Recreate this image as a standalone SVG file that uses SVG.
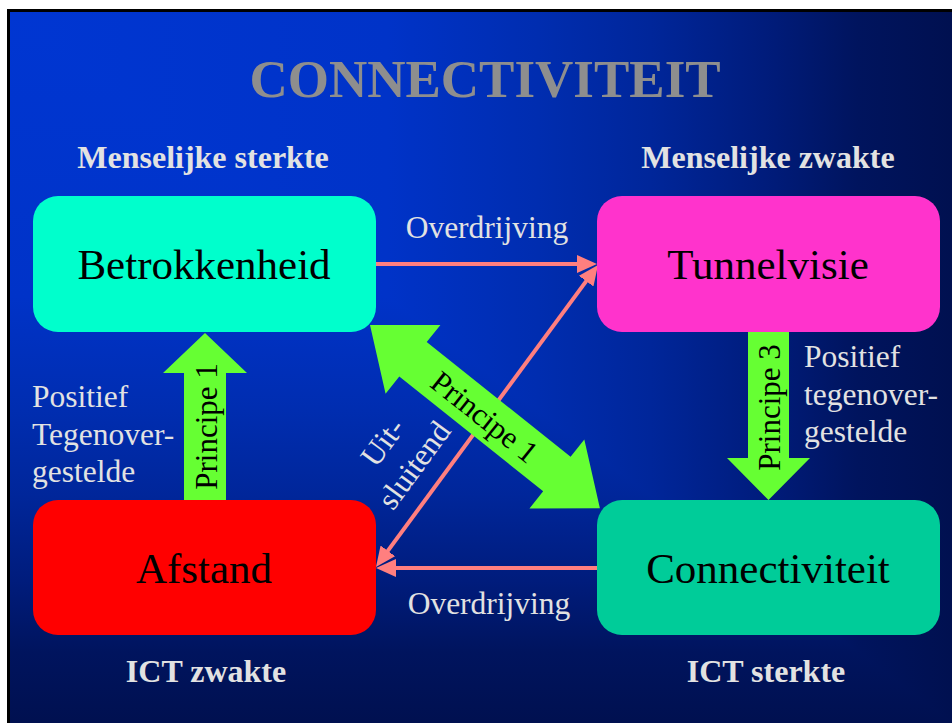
<svg xmlns="http://www.w3.org/2000/svg" width="952" height="723" viewBox="0 0 952 723">
  <defs>
    <linearGradient id="hg" gradientUnits="userSpaceOnUse" x1="10" y1="0" x2="952" y2="0">
      <stop offset="0" stop-color="#0036d2"/>
      <stop offset="0.4" stop-color="#0033c8"/>
      <stop offset="0.56" stop-color="#002db0"/>
      <stop offset="0.68" stop-color="#00269a"/>
      <stop offset="0.8" stop-color="#001c7c"/>
      <stop offset="0.9" stop-color="#00145e"/>
      <stop offset="1" stop-color="#001050"/>
    </linearGradient>
    <linearGradient id="vg" gradientUnits="userSpaceOnUse" x1="0" y1="12" x2="0" y2="723">
      <stop offset="0" stop-color="#0036d2"/>
      <stop offset="0.4" stop-color="#0033c8"/>
      <stop offset="0.56" stop-color="#002db0"/>
      <stop offset="0.68" stop-color="#00269a"/>
      <stop offset="0.8" stop-color="#001c7c"/>
      <stop offset="0.9" stop-color="#00145e"/>
      <stop offset="1" stop-color="#001050"/>
    </linearGradient>
    <marker id="ah" markerUnits="userSpaceOnUse" markerWidth="20" markerHeight="18" refX="10" refY="9" orient="auto-start-reverse" viewBox="0 0 20 18">
      <path d="M0,0 L20,9 L0,18 Z" fill="#ff7f7f"/>
    </marker>
    <style>
      .serif { font-family: "Liberation Serif", "Times New Roman", "DejaVu Serif", serif; }
      .title { font-size: 53px; font-weight: bold; fill: #8e8e8e; text-anchor: middle; }
      .head { font-size: 32px; font-weight: bold; fill: #e2e2e2; text-anchor: middle; }
      .node { font-size: 43px; fill: #000; text-anchor: middle; }
      .lbl { font-size: 31.5px; fill: #e2e2e2; }
      .mid { text-anchor: middle; }
      .prin { font-size: 31px; fill: #000; text-anchor: middle; }
      .conn { stroke: #ff7f7f; stroke-width: 4; fill: none; marker-end: url(#ah); }
      .green { fill: #66ff33; }
    </style>
  </defs>

  <g id="background">
    <rect x="0" y="0" width="952" height="723" fill="#ffffff"/>
    <rect x="7" y="9" width="945" height="714" fill="#000000"/>
    <rect x="10" y="12" width="942" height="711" fill="url(#vg)"/>
    <polygon points="10,12 952,12 952,723" fill="url(#hg)"/>
  </g>

  <g id="titles" class="serif">
    <text class="title" x="485" y="97">CONNECTIVITEIT</text>
    <text class="head" x="203" y="168">Menselijke sterkte</text>
    <text class="head" x="768" y="168">Menselijke zwakte</text>
    <text class="head" x="206" y="682">ICT zwakte</text>
    <text class="head" x="766" y="682">ICT sterkte</text>
  </g>

  <g id="connectors">
    <line class="conn" x1="376" y1="264" x2="587" y2="264"/>
    <line class="conn" x1="597" y1="568" x2="386" y2="568"/>
    <line x1="381.9" y1="558.9" x2="592.1" y2="273.1" stroke="#ff7f7f" stroke-width="4" marker-start="url(#ah)" marker-end="url(#ah)"/>
  </g>

  <g id="node-betrokkenheid">
    <rect x="33" y="196" width="343" height="136" rx="25" fill="#00ffcc"/>
    <text class="serif node" x="204" y="279">Betrokkenheid</text>
  </g>
  <g id="node-tunnelvisie">
    <rect x="597" y="196" width="343" height="136" rx="25" fill="#ff33cc"/>
    <text class="serif node" x="768" y="279">Tunnelvisie</text>
  </g>
  <g id="node-afstand">
    <rect x="33" y="500" width="343" height="135" rx="25" fill="#ff0000"/>
    <text class="serif node" x="204" y="583">Afstand</text>
  </g>
  <g id="node-connectiviteit">
    <rect x="597" y="500" width="343" height="135" rx="25" fill="#00cc99"/>
    <text class="serif node" x="768" y="583">Connectiviteit</text>
  </g>

  <g id="arrow-principe1-diag">
    <g transform="translate(370,325) rotate(38.56)">
      <polygon class="green" points="0,0 55,-44 55,-22 239,-22 239,-44 294,0 239,44 239,22 55,22 55,44"/>
      <text class="serif prin" x="147" y="11">Principe 1</text>
    </g>
  </g>

  <g id="arrow-principe1-left">
    <polygon class="green" points="205,333 247,373 226,373 226,500 184,500 184,373 163,373"/>
    <text class="serif prin" transform="translate(217,426.5) rotate(-90)" x="0" y="0">Principe 1</text>
  </g>

  <g id="arrow-principe3-right">
    <polygon class="green" points="748,332 789,332 789,458 810,458 768.5,500 727,458 748,458"/>
    <text class="serif prin" transform="translate(780,407.5) rotate(-90)" x="0" y="0">Principe 3</text>
  </g>

  <g id="labels" class="serif">
    <text class="lbl mid" x="487" y="238">Overdrijving</text>
    <text class="lbl mid" x="489" y="614">Overdrijving</text>
    <text class="lbl" x="32" y="407">Positief</text>
    <text class="lbl" x="32" y="445">Tegenover-</text>
    <text class="lbl" x="32" y="482">gestelde</text>
    <text class="lbl" x="804" y="367">Positief</text>
    <text class="lbl" x="804" y="405">tegenover-</text>
    <text class="lbl" x="804" y="442">gestelde</text>
    <g transform="translate(397.5,453) rotate(-53.7)">
      <text class="lbl mid" x="0" y="-8">Uit-</text>
      <text class="lbl mid" x="0" y="31">sluitend</text>
    </g>
  </g>
</svg>
